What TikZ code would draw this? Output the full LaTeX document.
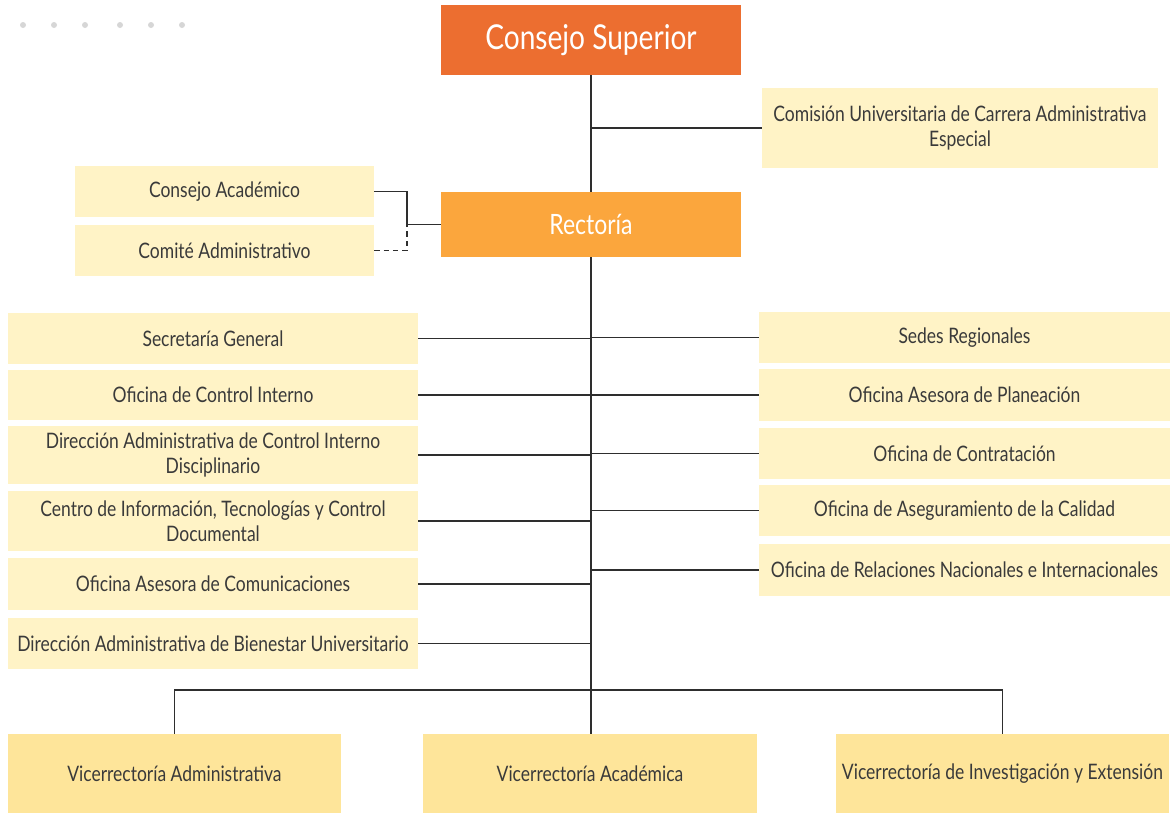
\documentclass[tikz,border=0pt]{standalone}
\usepackage{fontspec}
\setmainfont{Lato}[FakeStretch=0.82]
\definecolor{csup}{HTML}{EC6E30}
\definecolor{rect}{HTML}{FBA63D}
\definecolor{lite}{HTML}{FFF3C6}
\definecolor{vice}{HTML}{FEE59A}
\definecolor{txt}{HTML}{3A3A3A}
\definecolor{ln}{HTML}{2E2E2E}
\definecolor{dotg}{HTML}{D6D6D6}
\begin{document}
\begin{tikzpicture}[x=0.75pt,y=-0.75pt,
  box/.style={rectangle,inner sep=0pt,align=center,text=txt,font=\fontsize{16}{18.5}\selectfont},
  lbox/.style={box,fill=lite},
  vbox/.style={box,fill=vice,minimum width=250pt,minimum height=59.25pt},
  colL/.style={lbox,minimum width=307.5pt},
  colR/.style={lbox,minimum width=308.25pt},
  conn/.style={draw=ln,line width=1.1pt}]
\useasboundingbox (0,0) rectangle (1173,814);
% dots
\foreach \x in {23,54,85,120,151,182} \fill[dotg] (\x,25) circle[radius=3];
% main nodes
\node[box,fill=csup,text=white,minimum width=225pt,minimum height=52.5pt,font=\fontsize{25.7}{30}\selectfont] (cs) at (591,40) {Consejo Superior};
\node[box,fill=rect,text=white,minimum width=225pt,minimum height=48.75pt,font=\fontsize{21}{24}\selectfont] (rec) at (591,224.5) {Rectoría};
\node[lbox,minimum width=297pt,minimum height=60pt] (cu) at (960,128) {Comisión Universitaria de Carrera Administrativa\\Especial};
\node[lbox,minimum width=224.25pt,minimum height=38.25pt] (ca) at (224.5,191.5) {Consejo Académico};
\node[lbox,minimum width=224.25pt,minimum height=38.25pt] (ci) at (224.5,250.5) {Comité Administrativo};
% left column
\node[colL,minimum height=38.25pt] (l1) at (213,338.5) {Secretaría General};
\node[colL,minimum height=37.5pt] (l2) at (213,395) {Oficina de Control Interno};
\node[colL,minimum height=43.5pt] (l3) at (213,455) {Dirección Administrativa de Control Interno\\Disciplinario};
\node[colL,minimum height=45pt] (l4) at (213,521) {Centro de Información, Tecnologías y Control\\Documental};
\node[colL,minimum height=39pt] (l5) at (213,584) {Oficina Asesora de Comunicaciones};
\node[colL,minimum height=38.25pt] (l6) at (213,643.5) {Dirección Administrativa de Bienestar Universitario};
% right column
\node[colR,minimum height=38.25pt] (r1) at (964.5,337.5) {Sedes Regionales};
\node[colR,minimum height=39pt] (r2) at (964.5,395) {Oficina Asesora de Planeación};
\node[colR,minimum height=38.25pt] (r3) at (964.5,453.5) {Oficina de Contratación};
\node[colR,minimum height=38.25pt] (r4) at (964.5,510.5) {Oficina de Aseguramiento de la Calidad};
\node[colR,minimum height=39pt] (r5) at (964.5,570) {Oficina de Relaciones Nacionales e Internacionales};
% bottom
\node[vbox] (v1) at (174.5,773.5) {Vicerrectoría Administrativa};
\node[vbox] (v2) at (590,773.5) {Vicerrectoría Académica};
\node[vbox] (v3) at (1002.5,773.5) {Vicerrectoría de Investigación y Extensión};
% connectors
\coordinate (hub) at (591,690);
\coordinate (jn) at (407,224.5);
\draw[conn] (cs.south) -- (rec.north);
\draw[conn] (rec.south) -- (rec.south |- v2.north);
\draw[conn] (cu.west) -- (cu.west -| cs.south);
\draw[conn] (ca.east) -| (jn) -- (rec.west);
\draw[conn,dashed,dash pattern=on 4pt off 3pt] (ci.east) -| (jn);
\foreach \n in {l1,l2,l3,l4,l5,l6} \draw[conn] (\n.east) -- (\n.east -| cs.south);
\foreach \n in {r1,r2,r3,r4,r5} \draw[conn] (\n.west) -- (\n.west -| cs.south);
\draw[conn] (v1.north) |- (hub) -| (v3.north);
\end{tikzpicture}
\end{document}
